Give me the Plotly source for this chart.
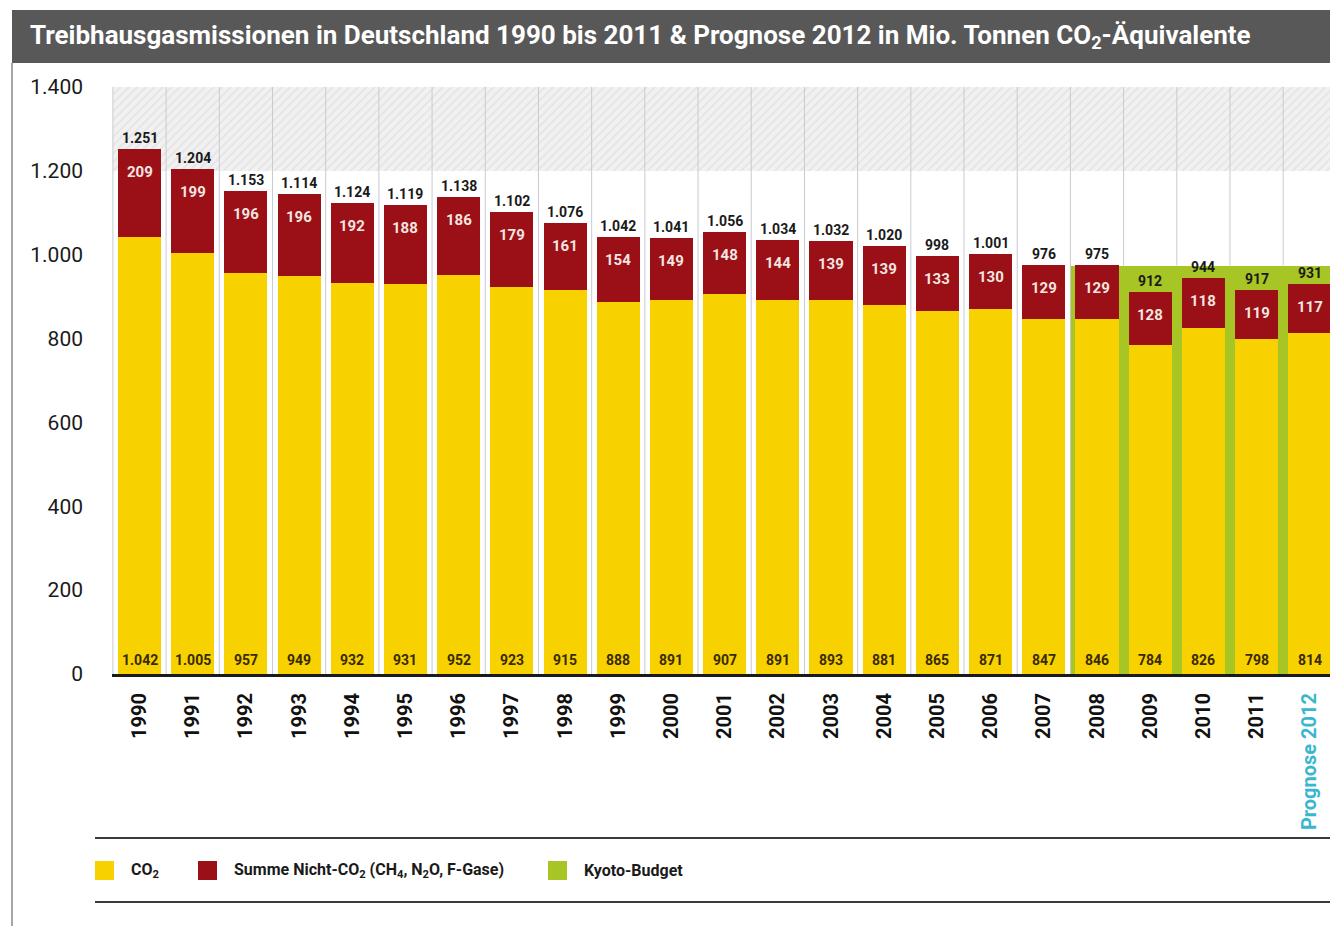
import plotly.graph_objects as go

# ---------------- data ----------------
years = ["1990", "1991", "1992", "1993", "1994", "1995", "1996", "1997", "1998", "1999",
         "2000", "2001", "2002", "2003", "2004", "2005", "2006", "2007", "2008", "2009",
         "2010", "2011", "Prognose 2012"]
co2 = [1042, 1005, 957, 949, 932, 931, 952, 923, 915, 888, 891, 907, 891, 893, 881,
       865, 871, 847, 846, 784, 826, 798, 814]
non_co2 = [209, 199, 196, 196, 192, 188, 186, 179, 161, 154, 149, 148, 144, 139, 139,
           133, 130, 129, 129, 128, 118, 119, 117]
total_labels = ["1.251", "1.204", "1.153", "1.114", "1.124", "1.119", "1.138", "1.102",
                "1.076", "1.042", "1.041", "1.056", "1.034", "1.032", "1.020", "998",
                "1.001", "976", "975", "912", "944", "917", "931"]
kyoto_years = ["2008", "2009", "2010", "2011", "Prognose 2012"]
kyoto_budget = [974, 974, 974, 974, 974]
y_ticks = [0, 200, 400, 600, 800, 1000, 1200, 1400]
y_tick_labels = ["0", "200", "400", "600", "800", "1.000", "1.200", "1.400"]

title = "Treibhausgasmissionen in Deutschland 1990 bis 2011 & Prognose 2012 in Mio. Tonnen CO<sub>2</sub>-Äquivalente"
legend_items = [("CO<sub>2</sub>", "#F8D200"),
                ("Summe Nicht-CO<sub>2</sub> (CH<sub>4</sub>, N<sub>2</sub>O, F-Gase)", "#9B0F16"),
                ("Kyoto-Budget", "#A7C524")]

# ---------------- style ----------------
FONT = "Roboto, Liberation Sans, Arial, sans-serif"
YELLOW = "#F8D200"
RED = "#9B0F16"
GREEN = "#A7C524"
W, H = 1330, 926
L, R, T, B = 112, 0, 87, 252
PW, PH = W - L - R, H - T - B
YMAX = 1400


def px(xp):
    return (xp - L) / PW


def py(yp):
    return (H - B - yp) / PH


idx = list(range(len(years)))
pos = {y: i for i, y in enumerate(years)}
k_idx = [pos[y] for y in kyoto_years]
totals = [c + n for c, n in zip(co2, non_co2)]
fmt = lambda v: f"{v:,}".replace(",", ".")

fig = go.Figure()

# hatched background band at top of each column
fig.add_trace(go.Bar(
    x=idx, y=[YMAX - 1200] * len(idx), base=1200, width=1.0,
    marker=dict(color="#f1f1f1", line=dict(width=0),
                pattern=dict(shape="/", fgcolor="#d4d4d4", bgcolor="#f1f1f1", size=6, solidity=0.25)),
    hoverinfo="skip", showlegend=False))

# Kyoto budget
fig.add_trace(go.Bar(
    x=k_idx, y=kyoto_budget, width=1.0, name="Kyoto-Budget",
    marker=dict(color=GREEN, line=dict(width=0)), showlegend=False))

# CO2
fig.add_trace(go.Bar(
    x=idx, y=co2, width=0.81, name="CO2",
    marker=dict(color=YELLOW, line=dict(width=0)), showlegend=False))

# non CO2
fig.add_trace(go.Bar(
    x=idx, y=non_co2, base=co2, width=0.81, name="Summe Nicht-CO2",
    marker=dict(color=RED, line=dict(width=0)), showlegend=False))

shapes = []
# column separators
kyoto_first = min(k_idx)
for i in range(-1, len(idx) - 1):
    b = i + 0.5
    y0 = 0 if b <= kyoto_first - 0.5 else max(kyoto_budget)
    shapes.append(dict(type="line", xref="x", yref="y", x0=b, x1=b, y0=y0, y1=YMAX,
                       line=dict(color="#c9cad2", width=1), layer="above"))

# title band
shapes.append(dict(type="rect", xref="paper", yref="paper", x0=px(12), x1=px(1330),
                   y0=py(63), y1=py(10), fillcolor="#585858", line=dict(width=0), layer="below"))
# left frame line
shapes.append(dict(type="line", xref="paper", yref="paper", x0=px(12), x1=px(12),
                   y0=py(926), y1=py(63), line=dict(color="#8a8a8a", width=1.5)))
# legend rules
for yl in (838, 902):
    shapes.append(dict(type="line", xref="paper", yref="paper", x0=px(95), x1=px(1330),
                       y0=py(yl), y1=py(yl), line=dict(color="#3a3a3a", width=2)))

annotations = []
annotations.append(dict(text=f"<b>{title}</b>", xref="paper", yref="paper", x=px(28), y=py(37),
                        xanchor="left", yanchor="middle", showarrow=False,
                        font=dict(family=FONT, size=26, color="white")))

# value labels
for i in idx:
    annotations.append(dict(text=f"<b>{total_labels[i]}</b>", x=i, y=totals[i], yshift=11,
                            xref="x", yref="y", showarrow=False, yanchor="middle",
                            font=dict(family=FONT, size=14, color="#1a1a1a")))
    annotations.append(dict(text=f"<b>{non_co2[i]}</b>", x=i, y=totals[i], yshift=-23,
                            xref="x", yref="y", showarrow=False, yanchor="middle",
                            font=dict(family=FONT, size=15, color="#f3e6e0")))
    annotations.append(dict(text=f"<b>{fmt(co2[i])}</b>", x=i, y=0, yshift=14,
                            xref="x", yref="y", showarrow=False, yanchor="middle",
                            font=dict(family=FONT, size=14, color="#3a2a00")))

# legend
leg_x = [95, 198, 548]
for (label, col), xl in zip(legend_items, leg_x):
    shapes.append(dict(type="rect", xref="paper", yref="paper", x0=px(xl), x1=px(xl + 19),
                       y0=py(880), y1=py(861), fillcolor=col, line=dict(width=0)))
    annotations.append(dict(text=f"<b>{label}</b>", xref="paper", yref="paper", x=px(xl + 34),
                            y=py(870), xanchor="left", yanchor="middle", showarrow=False,
                            font=dict(family=FONT, size=16, color="#1a1a1a")))

ticktext = [f"<b>{y}</b>" if not y.startswith("Prognose")
            else f"<span style='color:#3ab6cf'><b>{y}</b></span>" for y in years]

fig.update_layout(
    width=W, height=H, margin=dict(l=L, r=R, t=T, b=B),
    paper_bgcolor="white", plot_bgcolor="white",
    barmode="overlay", bargap=0, showlegend=False,
    shapes=shapes, annotations=annotations,
    xaxis=dict(range=[-0.517, 22.38], tickvals=idx, ticktext=ticktext, tickangle=-90,
               showgrid=False, zeroline=False, showline=True, linecolor="#1a1a1a", linewidth=3,
               ticks="", tickfont=dict(family=FONT, size=20, color="#111"), ticklabelstandoff=8),
    yaxis=dict(range=[0, YMAX], tickvals=y_ticks, ticktext=y_tick_labels, showgrid=False,
               zeroline=False, showline=False, ticks="",
               tickfont=dict(family=FONT, size=21, color="#1a1a1a"), ticklabelstandoff=28),
)

fig.write_html("out.html")
